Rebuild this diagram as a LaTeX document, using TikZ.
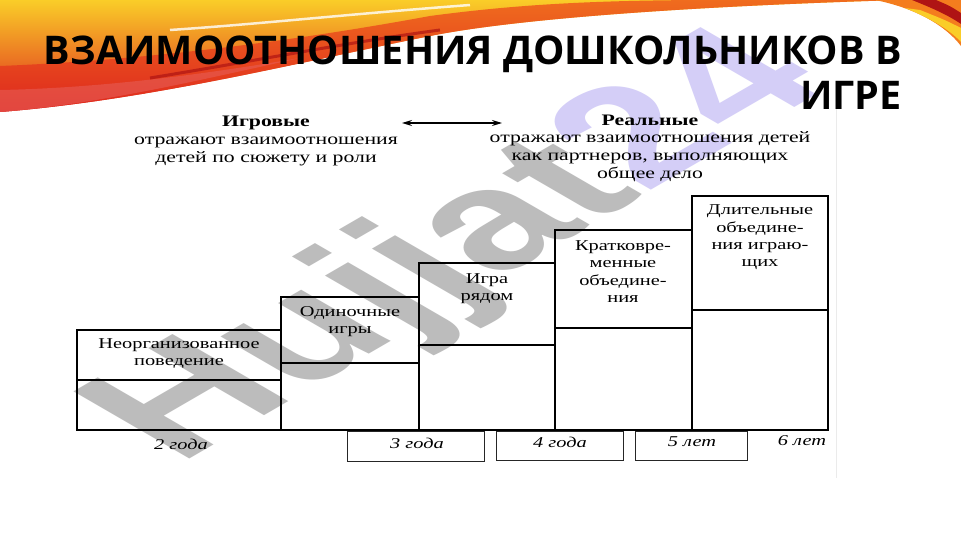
\documentclass[tikz,border=0pt]{standalone}
\usepackage{fontspec}
\setmainfont{Liberation Serif}[FakeStretch=1.36]
\newfontfamily\titlefont{Open Sans}
\newfontfamily\wmfont{Liberation Sans}
\usetikzlibrary{arrows.meta}
\definecolor{wmgray}{RGB}{188,188,188}
\definecolor{wmlav}{RGB}{212,206,247}
\definecolor{swyellow}{RGB}{250,205,40}
\definecolor{sworange}{RGB}{244,125,30}
\definecolor{swred}{RGB}{222,38,30}
\definecolor{swdark}{RGB}{175,20,20}
\tikzset{
  toptext/.style={align=center, font=\fontsize{16}{17.7}\selectfont, inner sep=0pt},
  boxtext/.style={align=center, font=\fontsize{15}{17.3}\selectfont, inner sep=0pt},
  agetext/.style={font=\itshape\fontsize{15}{17}\selectfont, inner sep=0pt},
  bigbox/.style={draw=black, line width=2.4pt, line join=miter},
  agebox/.style={draw=black!85, line width=0.9pt},
  titletext/.style={anchor=base east, inner sep=0pt, font=\titlefont\bfseries\fontsize{39.5}{45}\selectfont}
}
\begin{document}
\begin{tikzpicture}[x=1pt,y=-1pt]
\useasboundingbox (0,0) rectangle (961,540);
\fill[white] (0,0) rectangle (961,540);

% ---- decorative swoosh ----
\shade[top color=swyellow, middle color=sworange, bottom color=swred]
  (0,0) -- (900,0) .. controls (700,6) and (520,18) .. (430,36)
  .. controls (300,62) and (150,100) .. (0,112) -- cycle;
\shade[top color=sworange!80!swred, bottom color=swred]
  (0,66) .. controls (150,60) and (300,40) .. (430,16)
  .. controls (520,4) and (600,0) .. (720,0) -- (900,0)
  .. controls (700,6) and (520,18) .. (430,36)
  .. controls (300,62) and (150,100) .. (0,112) -- cycle;
\fill[swred!75!white, opacity=0.6]
  (0,90) .. controls (100,88) and (200,75) .. (300,58)
  .. controls (200,80) and (100,104) .. (0,112) -- cycle;
\draw[swdark, line width=3pt, opacity=0.7]
  (150,78) .. controls (260,60) and (350,42) .. (440,30);
\draw[white, line width=2.5pt, opacity=0.8]
  (170,30) .. controls (260,24) and (350,14) .. (470,5);
\fill[sworange] (875,0) .. controls (915,8) and (945,25) .. (961,46) -- (961,0) -- cycle;
\fill[swyellow] (905,8) .. controls (930,18) and (950,30) .. (961,42) -- (961,28) .. controls (945,20) .. (920,10) -- cycle;
\fill[swdark] (912,0) .. controls (932,8) and (948,15) .. (961,24) -- (961,13) .. controls (950,6) .. (936,0) -- cycle;

% ---- watermark ----
\begin{scope}[shift={(462,250)}, cm={1.22,0.707,-1.22,0.707,(0,0)}]
\node[transform shape, inner sep=0pt, font=\wmfont\bfseries\fontsize{138}{138}\selectfont] (wm) at (0,0)
  {\textcolor{wmgray}{Hujjat}\textcolor{wmlav}{24}};
\end{scope}

% ---- faint scan border ----
\draw[black!8, line width=1pt] (836,105) -- (836,478);

% ---- title ----
\node[titletext] (t1) at (902,65) {ВЗАИМООТНОШЕНИЯ ДОШКОЛЬНИКОВ В};
\node[titletext] (t2) at (902,110) {ИГРЕ};

% ---- top texts ----
\node[toptext] (igr) at (266,141) {\textbf{Игровые}\\отражают взаимоотношения\\детей по сюжету и роли};
\node[toptext] (real) at (650,148) {\textbf{Реальные}\\отражают взаимоотношения детей\\как партнеров, выполняющих\\общее дело};
\coordinate (al) at (402,123);
\coordinate (ar) at (502,123);
\draw[{Stealth[length=10pt,width=6pt]}-{Stealth[length=10pt,width=6pt]}, line width=1.4pt] (al) -- (ar);

% ---- staircase boxes ----
\draw[bigbox] (77,330) rectangle (281,430);
\draw[bigbox] (77,380) -- (281,380);
\draw[bigbox] (281,297) rectangle (419,430);
\draw[bigbox] (281,363) -- (419,363);
\draw[bigbox] (419,263) rectangle (555,430);
\draw[bigbox] (419,345) -- (555,345);
\draw[bigbox] (555,230) rectangle (692,430);
\draw[bigbox] (555,328) -- (692,328);
\draw[bigbox] (692,196) rectangle (828,430);
\draw[bigbox] (692,310) -- (828,310);

\node[boxtext] (b1) at (179,353.5) {Неорганизованное\\поведение};
\node[boxtext] (b2) at (350,321.5) {Одиночные\\игры};
\node[boxtext] (b3) at (487,288.5) {Игра\\рядом};
\node[boxtext] (b4) at (623,271.5) {Кратковре-\\менные\\объедине-\\ния};
\node[boxtext] (b5) at (760,237.5) {Длительные\\объедине-\\ния играю-\\щих};

% ---- age row ----
\draw[agebox] (347,431) rectangle (484,461);
\draw[agebox] (496,431) rectangle (623,460);
\draw[agebox] (635,431) rectangle (747,460);
\node[agetext] (a2) at (181,444) {2 года};
\node[agetext] (a3) at (417,443) {3 года};
\node[agetext] (a4) at (560,442) {4 года};
\node[agetext] (a5) at (692,442) {5 лет};
\node[agetext] (a6) at (802,441) {6 лет};
\end{tikzpicture}
\end{document}
